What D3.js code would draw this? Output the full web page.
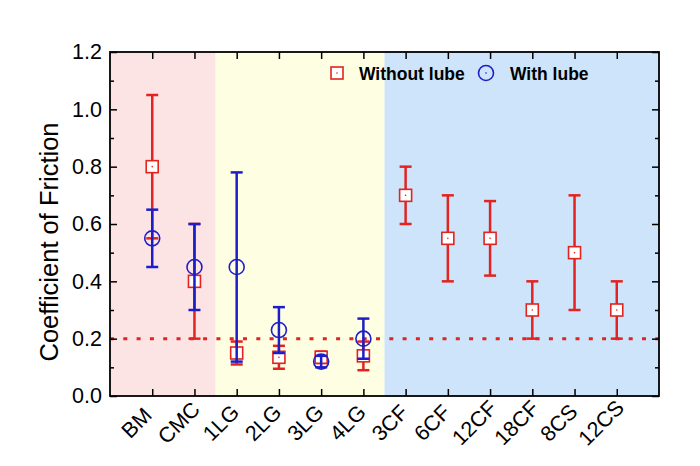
<!DOCTYPE html>
<html>
<head>
<meta charset="utf-8">
<script src="https://cdn.jsdelivr.net/npm/d3@7"></script>
<style>
  body { margin: 0; background: #fff; }
  text { font-family: "Liberation Sans", Arial, sans-serif; }
</style>
</head>
<body>
<div id="chart"></div>
<script>
// Friction coefficients, with and without lube

const categories = ["BM", "CMC", "1LG", "2LG", "3LG", "4LG",
                    "3CF", "6CF", "12CF", "18CF", "8CS", "12CS"];

// without lube (red squares)
const dryMean = [0.80, 0.40, 0.15, 0.135, 0.135, 0.14, 0.70, 0.55, 0.55, 0.30, 0.50, 0.30];
const dryErr  = [0.25, 0.20, 0.04, 0.04, 0.02, 0.05, 0.10, 0.15, 0.13, 0.10, 0.20, 0.10];

// with lube (blue circles), only the first six samples
const lubeMean = [0.55, 0.45, 0.45, 0.23, 0.12, 0.20];
const lubeErr  = [0.10, 0.15, 0.33, 0.08, 0.02, 0.07];

const yTicks = [0.0, 0.2, 0.4, 0.6, 0.8, 1.0, 1.2];
const threshold = 0.2;

// shaded groups, given as index ranges
const groups = [
  {from: 0, to: 2.5, fill: "#fde4e4"},
  {from: 2.5, to: 6.5, fill: "#fefee2"},
  {from: 6.5, to: 13, fill: "#cde4fb"}
];

const width = 700, height = 466;
const margin = {top: 52, right: 41, bottom: 70, left: 110};
const RED = "#e2231f", BLUE = "#1e1ec8";

const svg = d3.select("#chart")
  .append("svg")
  .attr("width", width)
  .attr("height", height);

const x = d3.scaleLinear()
  .domain([0, categories.length + 1])
  .range([margin.left, width - margin.right]);

const y = d3.scaleLinear()
  .domain([0, 1.2])
  .range([height - margin.bottom, margin.top]);

// background bands
svg.selectAll("rect.band")
  .data(groups)
  .enter()
  .append("rect")
  .attr("class", "band")
  .attr("x", d => x(d.from))
  .attr("width", d => x(d.to) - x(d.from))
  .attr("y", y(1.2))
  .attr("height", y(0) - y(1.2))
  .attr("fill", d => d.fill);

// dotted threshold line
svg.append("line")
  .attr("x1", x(0)).attr("x2", x(categories.length + 1))
  .attr("y1", y(threshold)).attr("y2", y(threshold))
  .attr("stroke", RED)
  .attr("stroke-width", 3)
  .attr("stroke-dasharray", "4,9.3");

function drawSeries(means, errs, color, cls) {
  const g = svg.append("g").attr("class", cls);
  const pts = means.map((m, i) => ({i: i + 1, m: m, e: errs[i]}));
  const cap = 6;
  g.selectAll("line.bar").data(pts).enter().append("line")
    .attr("x1", d => x(d.i)).attr("x2", d => x(d.i))
    .attr("y1", d => y(d.m + d.e)).attr("y2", d => y(d.m - d.e))
    .attr("stroke", color).attr("stroke-width", 2.5);
  g.selectAll("line.capTop").data(pts).enter().append("line")
    .attr("x1", d => x(d.i) - cap).attr("x2", d => x(d.i) + cap)
    .attr("y1", d => y(d.m + d.e)).attr("y2", d => y(d.m + d.e))
    .attr("stroke", color).attr("stroke-width", 2.5);
  g.selectAll("line.capBot").data(pts).enter().append("line")
    .attr("x1", d => x(d.i) - cap).attr("x2", d => x(d.i) + cap)
    .attr("y1", d => y(d.m - d.e)).attr("y2", d => y(d.m - d.e))
    .attr("stroke", color).attr("stroke-width", 2.5);
  return {g: g, pts: pts};
}

function squareMarker(sel, color) {
  sel.append("rect")
    .attr("x", -6).attr("y", -6).attr("width", 12).attr("height", 12)
    .attr("fill", "#fff").attr("stroke", color).attr("stroke-width", 1.6);
  sel.append("circle").attr("r", 0.8).attr("fill", color);
}

function circleMarker(sel, color) {
  sel.append("circle")
    .attr("r", 7.5)
    .attr("fill", "none").attr("stroke", color).attr("stroke-width", 1.6);
  sel.append("circle").attr("r", 0.8).attr("fill", color);
}

const dry = drawSeries(dryMean, dryErr, RED, "dry");
dry.g.selectAll("g.pt").data(dry.pts).enter().append("g")
  .attr("transform", d => `translate(${x(d.i)},${y(d.m)})`)
  .call(squareMarker, RED);

const lube = drawSeries(lubeMean, lubeErr, BLUE, "lube");
lube.g.selectAll("g.pt").data(lube.pts).enter().append("g")
  .attr("transform", d => `translate(${x(d.i)},${y(d.m)})`)
  .call(circleMarker, BLUE);

// axes: ticks point inward on all four sides
const catIdx = d3.range(1, categories.length + 1);
const minor = d3.range(1, 12, 2).map(v => v / 10);

svg.append("g")
  .attr("transform", `translate(0,${y(0)})`)
  .call(d3.axisBottom(x).tickValues(catIdx).tickSize(-7).tickFormat((d, i) => categories[i]))
  .call(g => g.select(".domain").remove())
  .selectAll("text")
  .attr("font-size", 21.5)
  .attr("fill", "#000")
  .attr("text-anchor", "middle")
  .attr("x", 0).attr("y", 0).attr("dy", 0)
  .attr("transform", "translate(-11,32) rotate(-45)");

svg.append("g")
  .attr("transform", `translate(0,${y(1.2)})`)
  .call(d3.axisTop(x).tickValues(catIdx).tickSize(-7).tickFormat(""))
  .call(g => g.select(".domain").remove());

svg.append("g")
  .attr("transform", `translate(${x(0)},0)`)
  .call(d3.axisLeft(y).tickValues(yTicks).tickSize(-7).tickPadding(8).tickFormat(d3.format(".1f")))
  .call(g => g.select(".domain").remove())
  .selectAll("text")
  .attr("font-size", 21.5)
  .attr("fill", "#000");

svg.append("g")
  .attr("transform", `translate(${x(0)},0)`)
  .call(d3.axisLeft(y).tickValues(minor).tickSize(-4).tickFormat(""))
  .call(g => g.select(".domain").remove());

svg.append("g")
  .attr("transform", `translate(${x(categories.length + 1)},0)`)
  .call(d3.axisRight(y).tickValues(yTicks).tickSize(-7).tickFormat(""))
  .call(g => g.select(".domain").remove());

svg.append("g")
  .attr("transform", `translate(${x(categories.length + 1)},0)`)
  .call(d3.axisRight(y).tickValues(minor).tickSize(-4).tickFormat(""))
  .call(g => g.select(".domain").remove());

svg.selectAll(".tick line").attr("stroke", "#000").attr("stroke-width", 1.5);

// frame
svg.append("rect")
  .attr("x", x(0)).attr("y", y(1.2))
  .attr("width", x(categories.length + 1) - x(0))
  .attr("height", y(0) - y(1.2))
  .attr("fill", "none")
  .attr("stroke", "#000")
  .attr("stroke-width", 1.8);

// y label
svg.append("text")
  .attr("transform", "translate(58,242) rotate(-90)")
  .attr("text-anchor", "middle")
  .attr("font-size", 25.5)
  .text("Coefficient of Friction");

// legend
const legend = svg.append("g").attr("transform", `translate(0,73)`);
legend.append("g").attr("transform", "translate(337,0)").call(squareMarker, RED);
legend.append("text").attr("x", 359).attr("y", 6.5)
  .attr("font-size", 17.5).attr("font-weight", "bold").text("Without lube");
legend.append("g").attr("transform", "translate(486,0)").call(circleMarker, BLUE);
legend.append("text").attr("x", 510).attr("y", 6.5)
  .attr("font-size", 17.5).attr("font-weight", "bold").text("With lube");
</script>
</body>
</html>
